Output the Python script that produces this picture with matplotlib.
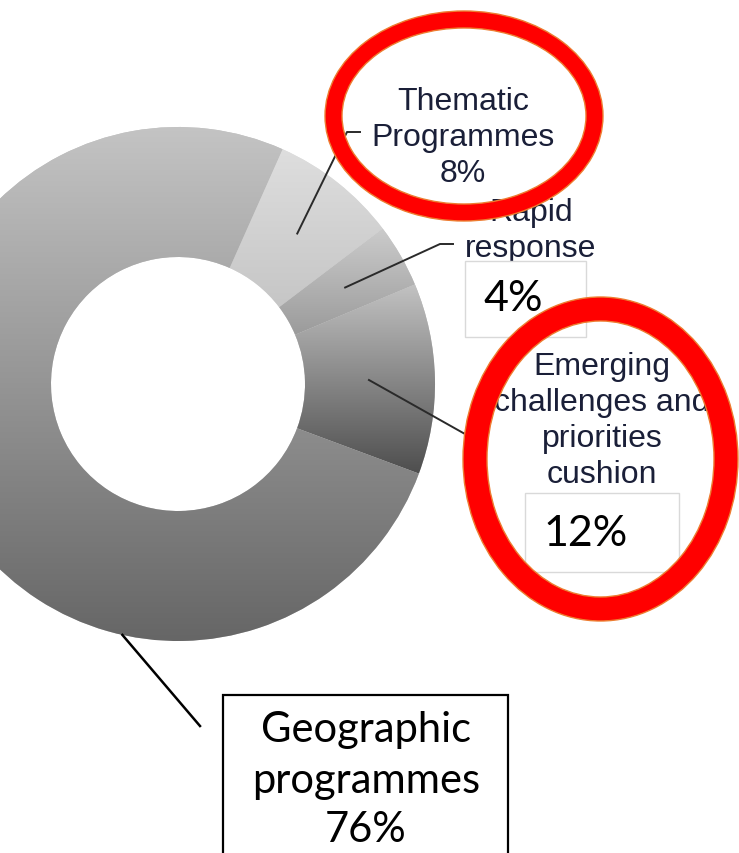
import numpy as np
import matplotlib
matplotlib.use("Agg")
import matplotlib.pyplot as plt
from matplotlib.colors import LinearSegmentedColormap
from matplotlib.patches import Annulus, Rectangle

# ---------------- data ----------------
categories = ["Thematic\nProgrammes", "Rapid\nresponse",
              "Emerging\nchallenges and\npriorities\ncushion",
              "Geographic\nprogrammes"]
shares = [8, 4, 12, 76]
pct_labels = [f"{v}%" for v in shares]

# ---------------- style ----------------
W, H = 739, 854
def Y(y):  # pixel-from-top -> data (y up)
    return H - y

grad_top = ["#dedede", "#cbcbcb", "#c2c2c2", "#c4c4c4"]
grad_bot = ["#bababa", "#858585", "#4e4e4e", "#666666"]
label_color = "#1a1f38"

fig = plt.figure(figsize=(W / 100, H / 100), dpi=100)
ax = fig.add_axes([0, 0, 1, 1])

cx, cy = 178, Y(385)
R_out, R_in = 257, 127

wedges, _ = ax.pie(shares, startangle=66, counterclock=False,
                   radius=R_out, center=(cx, cy),
                   wedgeprops=dict(width=R_out - R_in, linewidth=0))

for i, w in enumerate(wedges):
    verts = w.get_path().vertices
    y0, y1 = verts[:, 1].min(), verts[:, 1].max()
    x0, x1 = verts[:, 0].min(), verts[:, 0].max()
    cmap = LinearSegmentedColormap.from_list(f"g{i}", [grad_bot[i], grad_top[i]])
    w.set_facecolor(grad_top[i])
    w.set_zorder(1)
    grad = np.linspace(0, 1, 256).reshape(-1, 1)
    im = ax.imshow(grad, extent=(x0, x1, y0, y1), origin="lower", cmap=cmap,
                   aspect="auto", interpolation="bilinear", zorder=2)
    im.set_clip_path(w)

def mid_point(w, r):
    a = np.deg2rad((w.theta1 + w.theta2) / 2)
    return cx + r * np.cos(a), cy + r * np.sin(a)

# ---------------- leader lines ----------------
lc = "#2a2a2a"
# Thematic
sx, sy = mid_point(wedges[0], 192)
ax.plot([sx, 347, 360], [sy, Y(133), Y(133)], color=lc, lw=1.4, zorder=4)
# Rapid
sx, sy = mid_point(wedges[1], 193)
ax.plot([sx, 440, 453], [sy, Y(245), Y(245)], color=lc, lw=1.4, zorder=4)
# Emerging
sx, sy = mid_point(wedges[2], 191)
ax.plot([sx, 465], [sy, Y(435)], color=lc, lw=1.4, zorder=4)
# Geographic
ga = np.deg2rad(-102.5)
ax.plot([cx + R_out * np.cos(ga), 200], [cy + R_out * np.sin(ga), Y(727)],
        color="black", lw=1.8, zorder=4)

# ---------------- category labels ----------------
lab_font = dict(family=["Liberation Sans", "DejaVu Sans"], fontsize=23,
                color=label_color, ha="center", va="baseline", zorder=5)

def put_lines(lines, x, baselines):
    for t, b in zip(lines, baselines):
        ax.text(x, Y(b), t, **lab_font)

put_lines(categories[0].split("\n") + [pct_labels[0]], 463, [110, 146, 182])
put_lines(categories[1].split("\n"), 531, [221, 257])
put_lines(categories[2].split("\n"), 602, [375, 411, 447, 483])

# ---------------- value boxes ----------------
box_font = dict(family=["Lato", "DejaVu Sans"], color="black",
                ha="center", va="center", zorder=7)
ax.add_patch(Rectangle((465, Y(338)), 121, 76, facecolor="white",
                       edgecolor="#d9d9d9", lw=1, zorder=6))
ax.text(513, Y(299), pct_labels[1], fontsize=31, **box_font)

ax.add_patch(Rectangle((525, Y(573)), 154, 79, facecolor="white",
                       edgecolor="#d9d9d9", lw=1, zorder=6))
ax.text(586, Y(534), pct_labels[2], fontsize=31, **box_font)

ax.add_patch(Rectangle((223, Y(870)), 285, 174, facecolor="white",
                       edgecolor="black", lw=1.6, zorder=6))
geo_lines = categories[3].split("\n") + [pct_labels[3]]
for t, b in zip(geo_lines, [742, 793, 842]):
    ax.text(366, Y(b), t, fontsize=30, family=["Lato", "DejaVu Sans"],
            color="black", ha="center", va="baseline", zorder=7)

# ---------------- red highlight ellipses ----------------
ax.add_patch(Annulus((464, Y(117)), (139, 105), 17, facecolor="#ff0000",
                     edgecolor="#ed7d31", lw=1, zorder=9))
ax.add_patch(Annulus((600.5, Y(460)), (137.5, 162), 24, facecolor="#ff0000",
                     edgecolor="#ed7d31", lw=1, zorder=9))

ax.set_xlim(0, W)
ax.set_ylim(0, H)
ax.set_aspect("auto")
ax.axis("off")

fig.savefig("out.png", dpi=100)
